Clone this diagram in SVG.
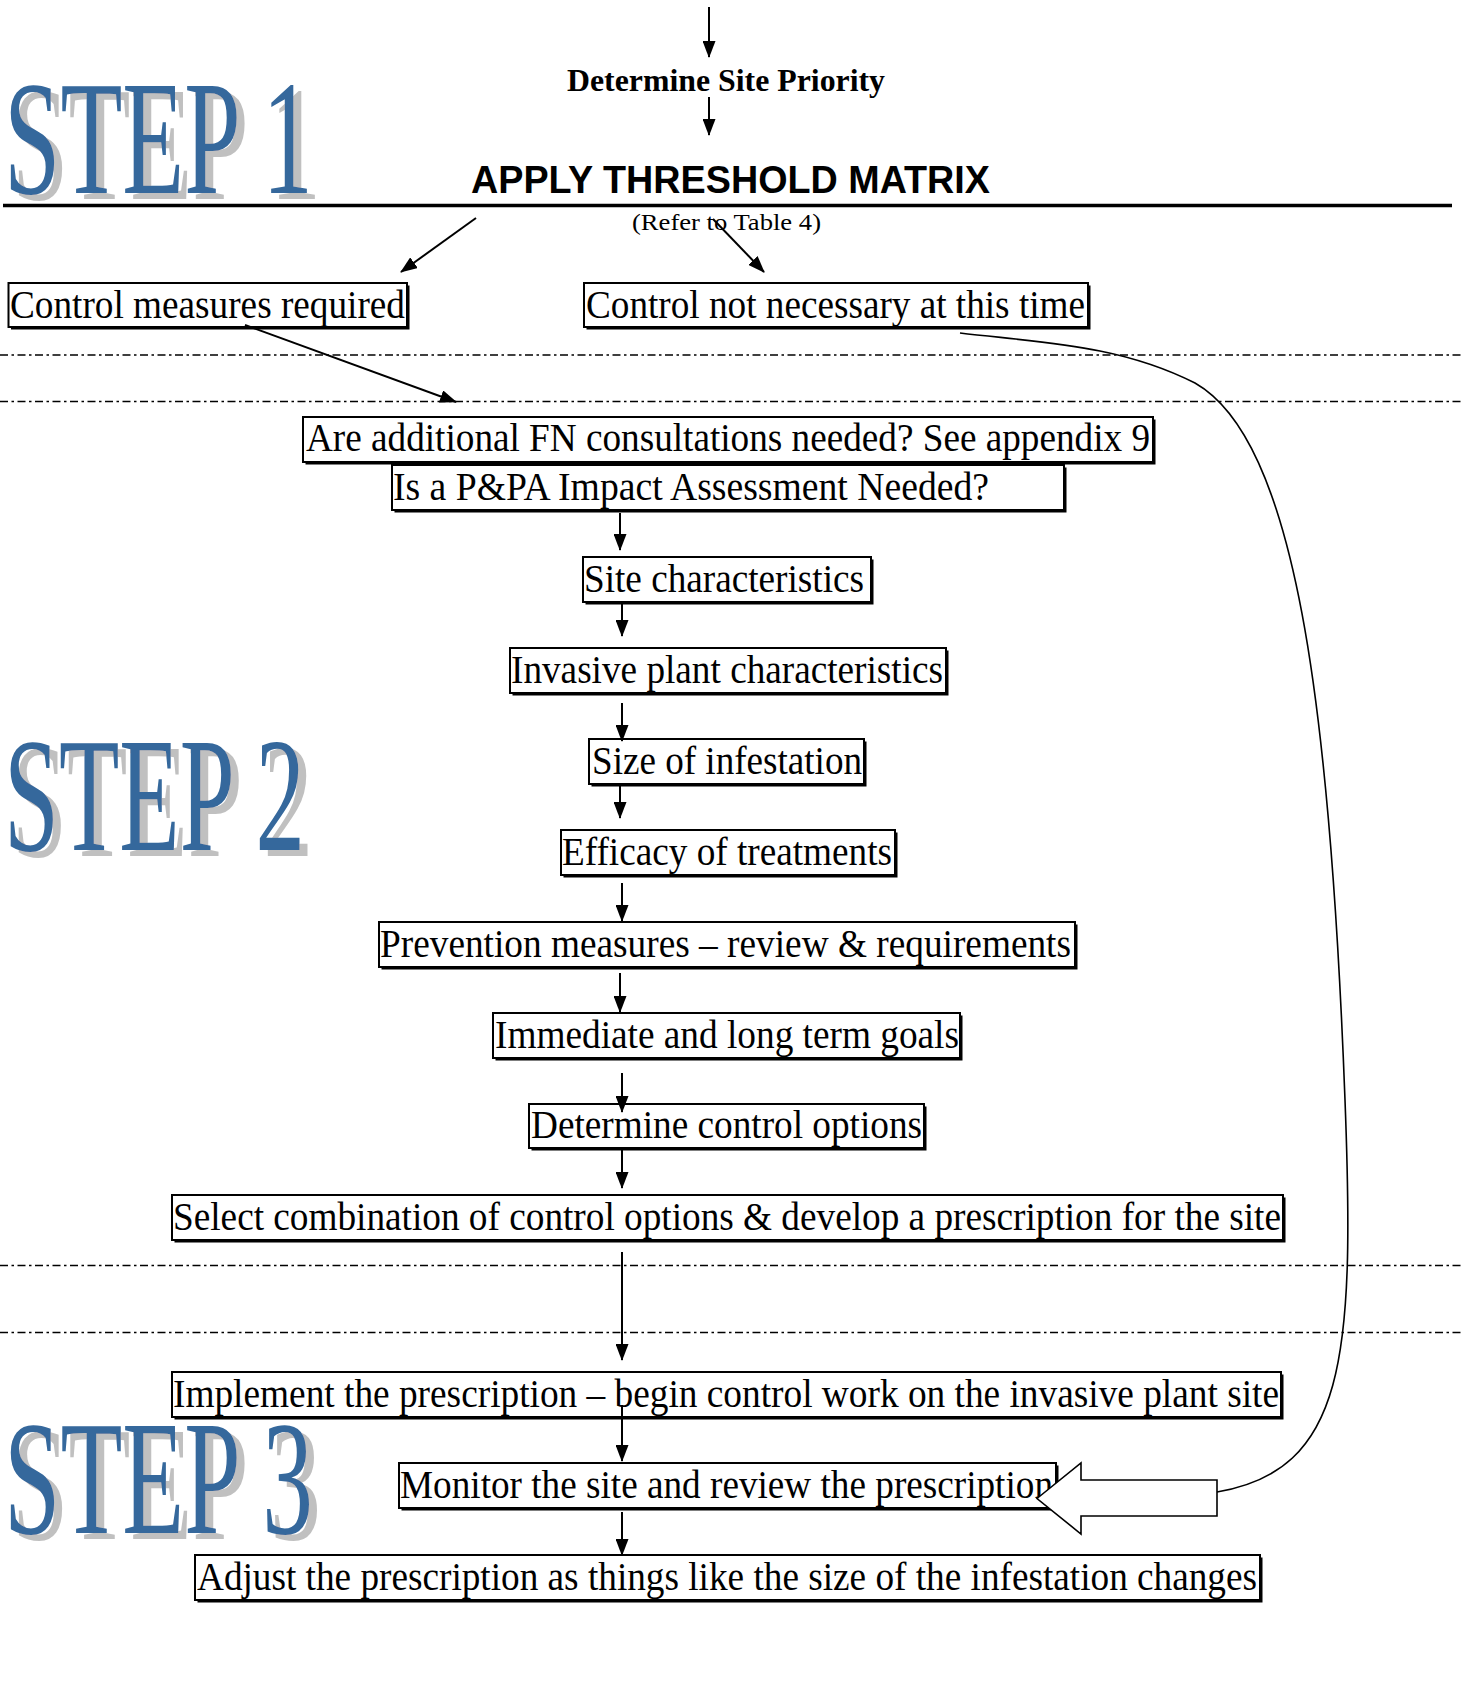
<svg xmlns="http://www.w3.org/2000/svg" width="1461" height="1695" viewBox="0 0 1461 1695">
<style>
.bg{fill:#fff}
.box{fill:#fff;stroke:#000;stroke-width:2}
.sh{fill:#000}
.t{font-family:"Liberation Serif","Times New Roman",serif;font-size:40px;fill:#000}
.tb{font-family:"Liberation Serif","Times New Roman",serif;font-weight:bold;font-size:32px;fill:#000}
.ts{font-family:"Liberation Serif","Times New Roman",serif;font-size:24px;fill:#000}
.ta{font-family:"Liberation Sans",Arial,sans-serif;font-weight:bold;font-size:38px;fill:#000}
.step{font-family:"Liberation Serif","Times New Roman",serif;font-size:163px;fill:#35689C;filter:url(#ds)}
.dd{stroke:#000;stroke-width:1.6;stroke-dasharray:8 3.5 2.5 3.5;fill:none}
.ln{stroke:#000;stroke-width:1.6;fill:none}
.lna{stroke:#000;stroke-width:2;fill:none;marker-end:url(#ah)}
</style>
<defs>
<marker id="ah" markerWidth="17" markerHeight="13" refX="16" refY="6.5" orient="auto" markerUnits="userSpaceOnUse">
<path d="M0,0 L17,6.5 L0,13 z" fill="#000"/>
</marker>
<filter id="ds" x="-5%" y="-10%" width="115%" height="125%">
<feFlood flood-color="#C0C0C0" result="c"/>
<feComposite in="c" in2="SourceAlpha" operator="in" result="s"/>
<feOffset in="s" dx="8" dy="6" result="o"/>
<feMerge><feMergeNode in="o"/><feMergeNode in="SourceGraphic"/></feMerge>
</filter>
</defs>
<rect class="bg" x="0" y="0" width="1461" height="1695"/>

<g id="step-labels">
<text class="step" x="4" y="193" textLength="309" lengthAdjust="spacingAndGlyphs">STEP 1</text>
<text class="step" x="4" y="850" textLength="301" lengthAdjust="spacingAndGlyphs">STEP 2</text>
<text class="step" x="4" y="1533" textLength="309" lengthAdjust="spacingAndGlyphs">STEP 3</text>
</g>

<g id="separators">
<line x1="3" y1="205.5" x2="1452" y2="205.5" stroke="#000" stroke-width="3.5"/>
<line class="dd" x1="0" y1="355" x2="1461" y2="355"/>
<line class="dd" x1="0" y1="401.5" x2="1461" y2="401.5"/>
<line class="dd" x1="0" y1="1265.5" x2="1461" y2="1265.5"/>
<line class="dd" x1="0" y1="1332.5" x2="1461" y2="1332.5"/>
</g>

<g id="n-priority">
<text class="tb" x="567" y="91" textLength="318" lengthAdjust="spacingAndGlyphs">Determine Site Priority</text>
</g>
<g id="n-threshold">
<text class="ta" x="471" y="193" textLength="519" lengthAdjust="spacingAndGlyphs">APPLY THRESHOLD MATRIX</text>
<text class="ts" x="632" y="230" textLength="189" lengthAdjust="spacingAndGlyphs">(Refer to Table 4)</text>
</g>

<g id="n-required">
<rect class="sh" x="11" y="285.5" width="398.5" height="44"/>
<rect class="box" x="8.5" y="283" width="398.5" height="44"/>
<text class="t" x="10" y="318" textLength="395" lengthAdjust="spacingAndGlyphs">Control measures required</text>
</g>
<g id="n-notnecessary">
<rect class="sh" x="586.5" y="285.5" width="504" height="44"/>
<rect class="box" x="584" y="283" width="504" height="44"/>
<text class="t" x="586" y="318" textLength="499" lengthAdjust="spacingAndGlyphs">Control not necessary at this time</text>
</g>
<g id="n-fn">
<rect class="sh" x="305.5" y="419.5" width="850" height="45"/>
<rect class="box" x="303" y="417" width="850" height="45"/>
<text class="t" x="306" y="451" textLength="844" lengthAdjust="spacingAndGlyphs">Are additional FN consultations needed? See appendix 9</text>
</g>
<g id="n-ppa">
<rect class="sh" x="394.5" y="467.5" width="672" height="45"/>
<rect class="box" x="392" y="465" width="672" height="45"/>
<text class="t" x="393" y="500" textLength="596" lengthAdjust="spacingAndGlyphs">Is a P&amp;PA Impact Assessment Needed?</text>
</g>
<g id="n-site">
<rect class="sh" x="585.5" y="559.5" width="288" height="45"/>
<rect class="box" x="583" y="557" width="288" height="45"/>
<text class="t" x="584" y="592" textLength="280" lengthAdjust="spacingAndGlyphs">Site characteristics</text>
</g>
<g id="n-invasive">
<rect class="sh" x="512.5" y="650.5" width="436" height="45"/>
<rect class="box" x="510" y="648" width="436" height="45"/>
<text class="t" x="511" y="683" textLength="432" lengthAdjust="spacingAndGlyphs">Invasive plant characteristics</text>
</g>
<g id="n-size">
<rect class="sh" x="591.5" y="741.5" width="275" height="45"/>
<rect class="box" x="589" y="739" width="275" height="45"/>
<text class="t" x="592" y="774" textLength="270" lengthAdjust="spacingAndGlyphs">Size of infestation</text>
</g>
<g id="n-efficacy">
<rect class="sh" x="563.5" y="832.5" width="334" height="45"/>
<rect class="box" x="561" y="830" width="334" height="45"/>
<text class="t" x="562" y="865" textLength="330" lengthAdjust="spacingAndGlyphs">Efficacy of treatments</text>
</g>
<g id="n-prevention">
<rect class="sh" x="381.5" y="924.5" width="696" height="45"/>
<rect class="box" x="379" y="922" width="696" height="45"/>
<text class="t" x="380" y="957" textLength="691" lengthAdjust="spacingAndGlyphs">Prevention measures – review &amp; requirements</text>
</g>
<g id="n-goals">
<rect class="sh" x="495.5" y="1015.5" width="467" height="45"/>
<rect class="box" x="493" y="1013" width="467" height="45"/>
<text class="t" x="495" y="1048" textLength="464" lengthAdjust="spacingAndGlyphs">Immediate and long term goals</text>
</g>
<g id="n-options">
<rect class="sh" x="531.5" y="1106.5" width="395" height="44"/>
<rect class="box" x="529" y="1104" width="395" height="44"/>
<text class="t" x="531" y="1138" textLength="391" lengthAdjust="spacingAndGlyphs">Determine control options</text>
</g>
<g id="n-select">
<rect class="sh" x="174.5" y="1197.5" width="1111" height="45"/>
<rect class="box" x="172" y="1195" width="1111" height="45"/>
<text class="t" x="173" y="1230" textLength="1108" lengthAdjust="spacingAndGlyphs">Select combination of control options &amp; develop a prescription for the site</text>
</g>
<g id="n-implement">
<rect class="sh" x="174.5" y="1374.5" width="1109" height="45"/>
<rect class="box" x="172" y="1372" width="1109" height="45"/>
<text class="t" x="173" y="1407" textLength="1106" lengthAdjust="spacingAndGlyphs">Implement the prescription – begin control work on the invasive plant site</text>
</g>
<g id="n-monitor">
<rect class="sh" x="401.5" y="1465.5" width="657" height="45"/>
<rect class="box" x="399" y="1463" width="657" height="45"/>
<text class="t" x="400" y="1498" textLength="653" lengthAdjust="spacingAndGlyphs">Monitor the site and review the prescription</text>
</g>
<g id="n-adjust">
<rect class="sh" x="197.5" y="1557.5" width="1065" height="45"/>
<rect class="box" x="195" y="1555" width="1065" height="45"/>
<text class="t" x="197" y="1590" textLength="1060" lengthAdjust="spacingAndGlyphs">Adjust the prescription as things like the size of the infestation changes</text>
</g>

<g id="connectors">
<line class="lna" x1="709" y1="7" x2="709" y2="57"/>
<line class="lna" x1="709" y1="97" x2="709" y2="135"/>
<line class="lna" x1="476" y1="218" x2="401" y2="272"/>
<line class="lna" x1="713" y1="219" x2="764" y2="272"/>
<line class="lna" x1="245" y1="325" x2="456" y2="402"/>
<line class="lna" x1="620" y1="513" x2="620" y2="550"/>
<line class="lna" x1="622" y1="603" x2="622" y2="636"/>
<line class="lna" x1="622" y1="703" x2="622" y2="741"/>
<line class="lna" x1="620" y1="785" x2="620" y2="818"/>
<line class="lna" x1="622" y1="883" x2="622" y2="921"/>
<line class="lna" x1="620" y1="973" x2="620" y2="1012"/>
<line class="lna" x1="622" y1="1073" x2="622" y2="1112"/>
<line class="lna" x1="622" y1="1150" x2="622" y2="1188"/>
<line class="lna" x1="622" y1="1252" x2="622" y2="1360"/>
<line class="lna" x1="622" y1="1405" x2="622" y2="1461"/>
<line class="lna" x1="622" y1="1512" x2="622" y2="1555"/>
<path class="ln" d="M960,333 C1045,343 1120,345 1195,383 C1295,440 1330,700 1345,1100 C1355,1360 1345,1470 1217,1492"/>
<polygon points="1037,1498.5 1081,1463 1081,1480 1217,1480 1217,1516 1081,1516 1081,1534" fill="#fff" stroke="#000" stroke-width="1.6"/>
</g>
</svg>
